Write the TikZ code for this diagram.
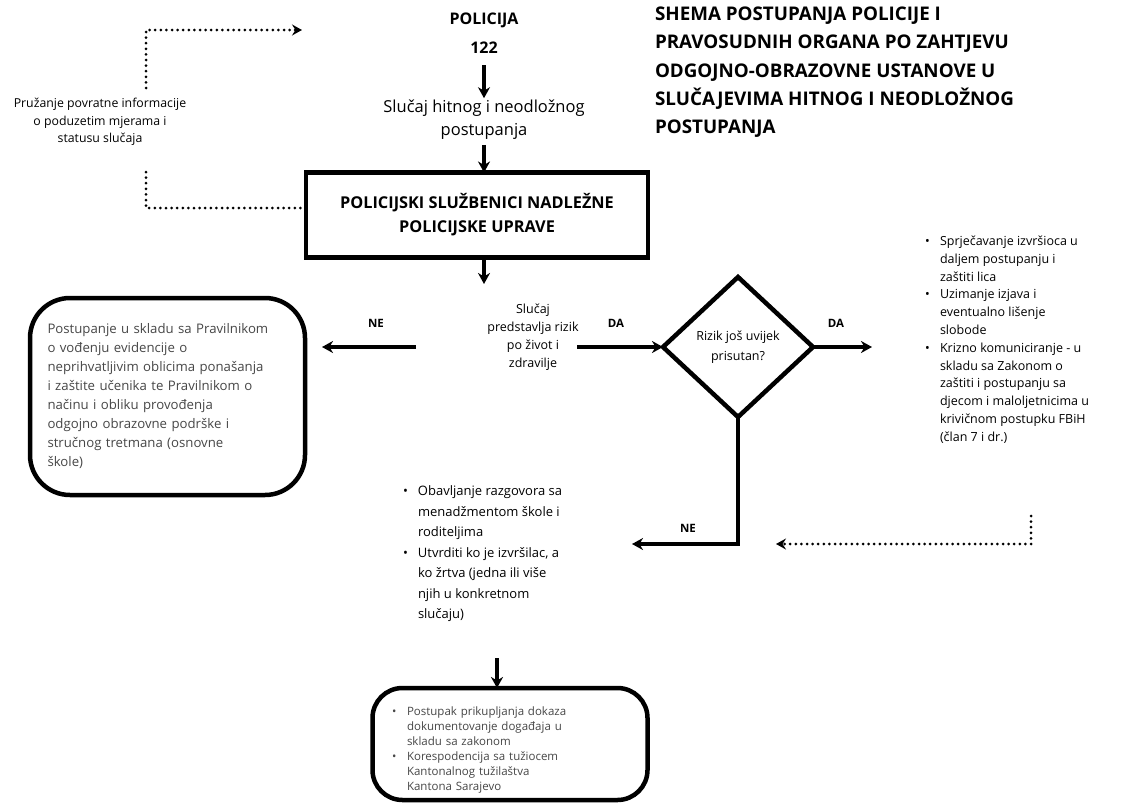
\documentclass[tikz,border=0pt]{standalone}
\usepackage{fontspec}
\setmainfont{Open Sans}
\usetikzlibrary{arrows.meta,shapes.geometric}
\newcommand{\bulitem}{\makebox[15pt][l]{\textbullet}}
\newcommand{\bulcont}{\hspace*{15pt}}
\begin{document}
\begin{tikzpicture}[x=1pt,y=-1pt,
  every node/.style={inner sep=0pt, outer sep=0pt},
  thickline/.style={line width=3.2pt},
  arr/.style={thickline, -{Stealth[length=11pt,width=12pt,inset=3.5pt]}},
  dotl/.style={line width=3pt, line cap=round, dash pattern=on 0pt off 5.6pt},
  dotarr/.style={dotl, -{Stealth[length=10pt,width=11pt,inset=3.5pt]}},
  boxline/.style={draw, line width=4.5pt},
  lab/.style={font=\bfseries\fontsize{11.5}{13}\selectfont},
  faded/.style={text=black!72}
]
\useasboundingbox[fill=white] (0,0) rectangle (1123,803);

% top flow
\node[font=\bfseries\fontsize{16}{29}\selectfont, align=center] (pol) at (484,33) {POLICIJA\\122};
\node[font=\fontsize{16.5}{23}\selectfont, align=center] (hit) at (484,120) {Slučaj hitnog i neodložnog\\postupanja};
\node[boxline, minimum width=342pt, minimum height=85pt, font=\bfseries\fontsize{16.3}{24}\selectfont, align=center] (ps) at (477,215) {POLICIJSKI SLUŽBENICI NADLEŽNE\\POLICIJSKE UPRAVE};
\coordinate (psend) at (484,284);
\draw[arr] ([yshift=-12pt]pol.south -| hit.north) -- ([yshift=2pt]hit.north);
\draw[arr] ([yshift=-5pt]hit.south) -- (hit.south |- ps.north);
\draw[arr] (ps.south -| psend) -- (psend);

% feedback
\node[font=\fontsize{12.3}{17.5}\selectfont, align=center] (fb) at (100,122) {Pružanje povratne informacije\\o poduzetim mjerama i\\statusu slučaja};
\coordinate (fbA) at (146,88);
\coordinate (fbB) at (302,30);
\coordinate (fbC) at (146,172);
\draw[dotarr] (fbA) |- (fbB);
\draw[dotl] ([yshift=7pt]ps.west) -| (fbC);

% title
\node[font=\bfseries\fontsize{18.8}{28.3}\selectfont, align=left, anchor=north west] (title) at (655,7) {SHEMA POSTUPANJA POLICIJE I\\PRAVOSUDNIH ORGANA PO ZAHTJEVU\\ODGOJNO-OBRAZOVNE USTANOVE U\\SLUČAJEVIMA HITNOG I NEODLOŽNOG\\POSTUPANJA};

% left box
\node[boxline, rounded corners=40pt, minimum width=275pt, minimum height=197pt, text width=240pt, align=left, faded, font=\fontsize{13.2}{19}\selectfont] (lb) at (167.5,396.5) {Postupanje u skladu sa Pravilnikom\\o vođenju evidencije o\\neprihvatljivim oblicima ponašanja\\i zaštite učenika te Pravilnikom o\\načinu i obliku provođenja\\odgojno obrazovne podrške i\\stručnog tretmana (osnovne\\škole)};

% middle row
\node[font=\fontsize{12.5}{18}\selectfont, align=center] (sl) at (533,337) {Slučaj\\predstavlja rizik\\po život i\\zdravilje};
\node[lab] (ne1) at (376,323) {NE};
\coordinate (neS) at (416,347);
\draw[arr, shorten >=17pt] (neS) -- (lb.east |- neS);
\node[lab] (da1) at (616,323) {DA};
\node[boxline, diamond, minimum width=150pt, minimum height=140pt, font=\fontsize{12.5}{20}\selectfont, align=center] (dm) at (738,347) {Rizik još uvijek\\prisutan?};
\coordinate (daS) at (577,347);
\draw[arr] (daS) -- (dm.west);
\node[lab] (da2) at (836,323) {DA};
\coordinate (daE) at (872,347);
\draw[arr] (dm.east) -- (daE);

% right list
\node[font=\fontsize{12.5}{17.8}\selectfont, align=left, anchor=north west] (rb) at (925,236) {\bulitem Sprječavanje izvršioca u\\\bulcont daljem postupanju i\\\bulcont zaštiti lica\\\bulitem Uzimanje izjava i\\\bulcont eventualno lišenje\\\bulcont slobode\\\bulitem Krizno komuniciranje - u\\\bulcont skladu sa Zakonom o\\\bulcont zaštiti i postupanju sa\\\bulcont djecom i maloljetnicima u\\\bulcont krivičnom postupku FBiH\\\bulcont (član 7 i dr.)};

% lower NE branch
\coordinate (neBE) at (632,544);
\draw[arr] (dm.south) |- (neBE);
\node[lab] (ne2) at (688,528) {NE};
\coordinate (dtA) at (1031,516);
\coordinate (dtB) at (776,544);
\draw[dotarr] (dtA) |- (dtB);

% bottom-left list
\node[font=\fontsize{13}{20.5}\selectfont, align=left, anchor=north west] (bl) at (403,486) {\bulitem Obavljanje razgovora sa\\\bulcont menadžmentom škole i\\\bulcont roditeljima\\\bulitem Utvrditi ko je izvršilac, a\\\bulcont ko žrtva (jedna ili više\\\bulcont njih u konkretnom\\\bulcont slučaju)};

% bottom box
\node[boxline, rounded corners=30pt, minimum width=275pt, minimum height=112pt] (bbf) at (510,744) {};
\node[text width=236pt, align=left, faded, font=\fontsize{11.5}{15}\selectfont] (bb) at (510,750) {\bulitem Postupak prikupljanja dokaza\\\bulcont dokumentovanje događaja u\\\bulcont skladu sa zakonom\\\bulitem Korespodencija sa tužiocem\\\bulcont Kantonalnog tužilaštva\\\bulcont Kantona Sarajevo};
\coordinate (bbA) at (497,658);
\draw[arr] (bbA) -- (bbA |- bbf.north);
\end{tikzpicture}
\end{document}
